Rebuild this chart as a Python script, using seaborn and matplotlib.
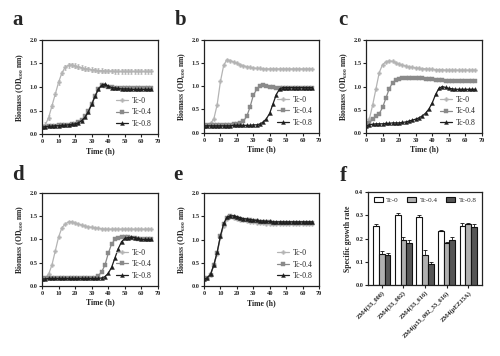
import numpy as np
import pandas as pd
import matplotlib
matplotlib.use("Agg")
import matplotlib.pyplot as plt
import seaborn as sns

sns.set_theme(style="ticks")
plt.rcParams['font.family'] = ['Liberation Serif', 'DejaVu Serif']
plt.rcParams['mathtext.fontset'] = 'custom'
plt.rcParams['mathtext.rm'] = 'Liberation Serif'
plt.rcParams['mathtext.bf'] = 'Liberation Serif:bold'

# ---------------- data ----------------
TIME = [0, 2, 4, 6, 8, 10, 12, 14, 16, 18, 20, 22, 24, 26, 28, 30, 32,
        34, 36, 38, 40, 42, 44, 46, 48, 50, 52, 54, 56, 58, 60, 62, 64, 66]
SERIES = ["Tc-0", "Tc-0.4", "Tc-0.8"]

a_tc0 = [0.15, 0.20, 0.35, 0.60, 0.85, 1.10, 1.30, 1.42, 1.46, 1.47, 1.45, 1.43, 1.41, 1.39, 1.38, 1.37, 1.36,
         1.35, 1.35, 1.34, 1.34, 1.34, 1.33, 1.33, 1.33, 1.33, 1.33, 1.33, 1.33, 1.33, 1.33, 1.33, 1.33, 1.33]
a_tc04 = [0.15, 0.16, 0.17, 0.18, 0.18, 0.19, 0.19, 0.20, 0.20, 0.21, 0.22, 0.25, 0.30, 0.38, 0.50, 0.65, 0.82,
          0.96, 1.04, 1.03, 1.01, 1.00, 0.99, 0.98, 0.98, 0.97, 0.97, 0.97, 0.97, 0.97, 0.97, 0.97, 0.97, 0.97]
a_tc08 = [0.15, 0.16, 0.17, 0.17, 0.18, 0.18, 0.19, 0.19, 0.20, 0.21, 0.22, 0.24, 0.29, 0.36, 0.48, 0.63, 0.80,
          0.95, 1.04, 1.06, 1.02, 0.99, 0.98, 0.97, 0.96, 0.96, 0.96, 0.95, 0.95, 0.95, 0.95, 0.95, 0.95, 0.95]

b_tc0 = [0.15, 0.16, 0.20, 0.30, 0.60, 1.10, 1.45, 1.57, 1.55, 1.52, 1.49, 1.46, 1.44, 1.42, 1.40, 1.39, 1.38,
         1.38, 1.37, 1.37, 1.37, 1.37, 1.37, 1.37, 1.37, 1.37, 1.37, 1.37, 1.37, 1.37, 1.37, 1.37, 1.37, 1.37]
b_tc04 = [0.15, 0.16, 0.16, 0.17, 0.17, 0.17, 0.17, 0.17, 0.17, 0.18, 0.18, 0.20, 0.25, 0.35, 0.55, 0.80, 0.93,
          1.00, 1.02, 1.01, 0.99, 0.98, 0.97, 0.97, 0.97, 0.97, 0.97, 0.97, 0.97, 0.97, 0.97, 0.97, 0.97, 0.97]
b_tc08 = [0.15, 0.15, 0.15, 0.15, 0.15, 0.15, 0.15, 0.15, 0.15, 0.16, 0.16, 0.16, 0.16, 0.16, 0.16, 0.17, 0.17,
          0.19, 0.23, 0.30, 0.42, 0.62, 0.82, 0.94, 0.97, 0.97, 0.97, 0.97, 0.97, 0.97, 0.97, 0.97, 0.97, 0.97]

c_tc0 = [0.15, 0.30, 0.60, 0.95, 1.30, 1.47, 1.53, 1.55, 1.54, 1.51, 1.48, 1.46, 1.44, 1.42, 1.41, 1.40, 1.39,
         1.38, 1.38, 1.37, 1.37, 1.36, 1.36, 1.36, 1.35, 1.35, 1.35, 1.35, 1.35, 1.35, 1.35, 1.35, 1.35, 1.35]
c_tc04 = [0.15, 0.22, 0.30, 0.36, 0.42, 0.55, 0.75, 0.95, 1.08, 1.14, 1.17, 1.18, 1.18, 1.18, 1.18, 1.18, 1.18,
          1.18, 1.17, 1.17, 1.16, 1.15, 1.14, 1.13, 1.12, 1.12, 1.12, 1.12, 1.12, 1.12, 1.12, 1.12, 1.12, 1.12]
c_tc08 = [0.15, 0.18, 0.19, 0.20, 0.20, 0.20, 0.21, 0.21, 0.22, 0.22, 0.22, 0.23, 0.24, 0.26, 0.28, 0.30, 0.33,
          0.37, 0.43, 0.52, 0.65, 0.83, 0.96, 1.00, 0.98, 0.96, 0.95, 0.94, 0.94, 0.94, 0.94, 0.94, 0.94, 0.94]

d_tc0 = [0.15, 0.17, 0.25, 0.45, 0.75, 1.05, 1.25, 1.33, 1.38, 1.38, 1.36, 1.33, 1.31, 1.29, 1.27, 1.26, 1.25,
         1.24, 1.23, 1.22, 1.22, 1.22, 1.22, 1.22, 1.22, 1.22, 1.22, 1.22, 1.22, 1.22, 1.22, 1.22, 1.22, 1.22]
d_tc04 = [0.15, 0.16, 0.17, 0.17, 0.17, 0.17, 0.17, 0.17, 0.17, 0.17, 0.17, 0.17, 0.17, 0.17, 0.17, 0.17, 0.18,
          0.22, 0.30, 0.45, 0.70, 0.90, 1.00, 1.03, 1.05, 1.05, 1.05, 1.04, 1.02, 1.00, 1.00, 1.00, 1.00, 1.00]
d_tc08 = [0.15, 0.15, 0.16, 0.16, 0.16, 0.16, 0.16, 0.16, 0.16, 0.16, 0.16, 0.16, 0.16, 0.16, 0.16, 0.16, 0.16,
          0.16, 0.17, 0.20, 0.27, 0.40, 0.60, 0.80, 0.95, 1.02, 1.04, 1.05, 1.04, 1.02, 1.00, 1.00, 1.00, 1.00]

e_tc0 = [0.15, 0.18, 0.25, 0.45, 0.70, 1.05, 1.30, 1.44, 1.48, 1.47, 1.45, 1.43, 1.41, 1.39, 1.38, 1.37, 1.36,
         1.35, 1.35, 1.34, 1.34, 1.33, 1.33, 1.33, 1.33, 1.33, 1.33, 1.33, 1.33, 1.33, 1.33, 1.33, 1.33, 1.33]
e_tc04 = [0.15, 0.18, 0.25, 0.45, 0.72, 1.07, 1.33, 1.46, 1.50, 1.49, 1.47, 1.45, 1.43, 1.42, 1.41, 1.40, 1.39,
          1.38, 1.38, 1.37, 1.37, 1.36, 1.36, 1.36, 1.36, 1.36, 1.36, 1.36, 1.36, 1.36, 1.36, 1.36, 1.36, 1.36]
e_tc08 = [0.15, 0.18, 0.26, 0.46, 0.73, 1.08, 1.35, 1.48, 1.51, 1.51, 1.49, 1.47, 1.45, 1.44, 1.43, 1.42, 1.41,
          1.40, 1.40, 1.39, 1.39, 1.38, 1.38, 1.38, 1.38, 1.38, 1.38, 1.38, 1.38, 1.38, 1.38, 1.38, 1.38, 1.38]

# panel f
STRAINS = ["ZM4(33_000)", "ZM4(33_002)", "ZM4(33_616)", "ZM4(p33_002_33_616)", "ZM4(pEZ15A)"]
rate_tc0 = [0.252, 0.302, 0.292, 0.233, 0.255]
rate_tc04 = [0.133, 0.195, 0.129, 0.181, 0.261]
rate_tc08 = [0.128, 0.181, 0.090, 0.195, 0.248]
err_tc0 = [0.012, 0.008, 0.008, 0.005, 0.010]
err_tc04 = [0.012, 0.012, 0.022, 0.005, 0.004]
err_tc08 = [0.008, 0.012, 0.010, 0.010, 0.014]

# ---------------- style ----------------
LINE_COLORS = {"Tc-0": "#b4b4b4", "Tc-0.4": "#8a8a8a", "Tc-0.8": "#1e1e1e"}
LINE_MARKERS = {"Tc-0": "P", "Tc-0.4": "s", "Tc-0.8": "^"}
BAR_COLORS = {"Tc-0": "#ffffff", "Tc-0.4": "#b0b0b0", "Tc-0.8": "#555555"}

W, H = 500, 356
fig = plt.figure(figsize=(W / 100, H / 100), dpi=100)

TICK_FS = 4.6
LAB_FS = 5.6


def style_axes(ax):
    for s in ax.spines.values():
        s.set_visible(True)
        s.set_color("#222222")
        s.set_linewidth(0.9)
    ax.tick_params(axis="both", which="major", length=2.2, width=0.8, pad=1.2,
                   labelsize=TICK_FS, color="#222222")
    for lab in ax.get_xticklabels() + ax.get_yticklabels():
        lab.set_fontweight("bold")


def line_panel(rect, series_vals, sd0=None):
    ax = fig.add_axes(rect)
    for name, vals in zip(SERIES, series_vals):
        df = pd.DataFrame({"Time": TIME, "OD": vals})
        sns.lineplot(data=df, x="Time", y="OD", ax=ax, color=LINE_COLORS[name],
                     marker=LINE_MARKERS[name], markersize=2.8, markeredgewidth=0.3,
                     markeredgecolor=LINE_COLORS[name], linewidth=0.9, label=name)
        if sd0 is not None and name == "Tc-0":
            ax.errorbar(TIME, vals, yerr=sd0, fmt="none", ecolor=LINE_COLORS[name],
                        elinewidth=0.6, capsize=1.0, capthick=0.5, zorder=1)
    ax.set_xlim(0, 70)
    ax.set_ylim(0, 2.0)
    ax.set_xticks(np.arange(0, 71, 10))
    ax.set_yticks(np.arange(0, 2.01, 0.5))
    ax.set_yticklabels([f"{v:.1f}" for v in np.arange(0, 2.01, 0.5)])
    ax.set_xlabel("Time (h)", fontsize=LAB_FS, fontweight="bold", labelpad=2)
    ax.set_ylabel(r"Biomass (OD$_{\mathbf{600}}$ nm)", fontsize=LAB_FS,
                  fontweight="bold", labelpad=2)
    style_axes(ax)
    ax.legend(loc="lower right", bbox_to_anchor=(1.0, 0.0), frameon=False,
              fontsize=LAB_FS, labelspacing=0.45, handlelength=1.6,
              handletextpad=0.5, borderaxespad=0.5, borderpad=0.3)
    return ax


line_panel([0.084, 0.623, 0.232, 0.265], [a_tc0, a_tc04, a_tc08], sd0=0.05)
line_panel([0.408, 0.627, 0.230, 0.262], [b_tc0, b_tc04, b_tc08])
line_panel([0.732, 0.626, 0.232, 0.262], [c_tc0, c_tc04, c_tc08])
line_panel([0.084, 0.197, 0.232, 0.261], [d_tc0, d_tc04, d_tc08])
line_panel([0.408, 0.196, 0.230, 0.262], [e_tc0, e_tc04, e_tc08])

# ---- panel f ----
axf = fig.add_axes([0.736, 0.199, 0.228, 0.262])
df_f = pd.DataFrame({
    "strain": STRAINS * 3,
    "rate": rate_tc0 + rate_tc04 + rate_tc08,
    "tc": ["Tc-0"] * 5 + ["Tc-0.4"] * 5 + ["Tc-0.8"] * 5,
})
sns.barplot(data=df_f, x="strain", y="rate", hue="tc", palette=BAR_COLORS,
            edgecolor="#111111", linewidth=0.8, errorbar=None, width=0.8, ax=axf)
for cont, errs in zip(axf.containers, [err_tc0, err_tc04, err_tc08]):
    xs = [p.get_x() + p.get_width() / 2 for p in cont.patches]
    ys = [p.get_height() for p in cont.patches]
    axf.errorbar(xs, ys, yerr=[np.zeros(len(errs)), errs], fmt="none",
                 ecolor="#111111", elinewidth=0.6, capsize=1.2, capthick=0.6)
axf.set_ylim(0, 0.4)
axf.set_yticks([0, 0.1, 0.2, 0.3, 0.4])
axf.set_yticklabels(["0.0", "0.1", "0.2", "0.3", "0.4"])
axf.set_xlabel("")
axf.set_ylabel("Specific growth rate", fontsize=LAB_FS, fontweight="bold", labelpad=2)
style_axes(axf)
axf.set_xticks(range(len(STRAINS)))
axf.set_xticklabels(STRAINS, rotation=45, ha="right", rotation_mode="anchor",
                    fontsize=TICK_FS, fontweight="bold")
axf.legend(loc="upper center", bbox_to_anchor=(0.5, 1.0), ncol=3, frameon=False,
           fontsize=TICK_FS + 0.4, handlelength=1.3, handleheight=0.6,
           columnspacing=1.2, handletextpad=0.5, borderaxespad=0.4)

# panel letters
for letter, (x, y) in zip("abcdef", [(0.036, 0.944), (0.362, 0.944), (0.686, 0.944),
                                     (0.036, 0.508), (0.356, 0.508), (0.686, 0.506)]):
    fig.text(x, y, letter, fontsize=15, fontweight="bold", ha="center", va="center")

fig.savefig("out.png", dpi=100)
